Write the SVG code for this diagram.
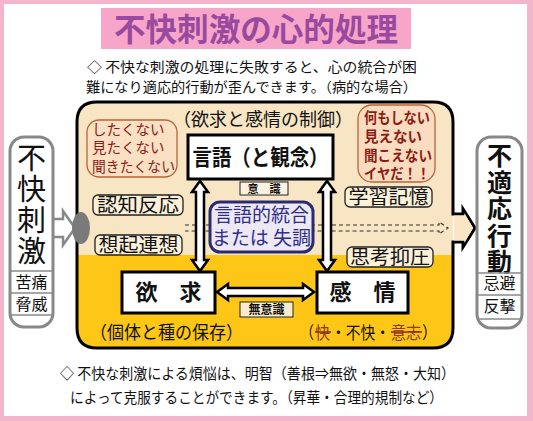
<svg xmlns="http://www.w3.org/2000/svg" width="533" height="421" viewBox="0 0 533 421">
<style>
text{font-family:"Noto Sans CJK JP","Noto Sans CJK SC",sans-serif;fill:#111}
.lbl{fill:#fbf0d8;stroke:#222;stroke-width:1.3}
.lt{font-size:19px;text-anchor:middle}
.node{fill:#fff;stroke:#000;stroke-width:3}
.side{fill:#fff;stroke:#888;stroke-width:3}
.sep{stroke:#888;stroke-width:1.5}
.dbl{fill:#fff;stroke:#000;stroke-width:2.5;stroke-linejoin:miter}
.bub{stroke:#b8653a;stroke-width:1.3}
.bt{font-size:14.5px;fill:#8b1c14}
.strike{stroke:#a0281a;stroke-width:1.6}
.st{font-size:17px}
</style>
<defs>
<clipPath id="boxclip"><path d="M97 102 H433 Q453 102 453 122 V328 Q453 348 433 348 H97 Q77 348 77 328 V122 Q77 102 97 102 Z"/></clipPath>
</defs>
<rect x="0" y="0" width="533" height="421" fill="#f3b5cc"/>
<rect x="4" y="4" width="523" height="412" fill="#fff"/>
<g id="title">
<rect x="101" y="8" width="310" height="41" fill="#f7a6c9"/>
<text x="256" y="41" text-anchor="middle" font-size="32" font-weight="bold" style="fill:#9a4a9e" textLength="284" lengthAdjust="spacingAndGlyphs">不快刺激の心的処理</text>
</g>
<g id="intro">
<text x="87" y="72" font-size="14" textLength="330" lengthAdjust="spacingAndGlyphs">◇ 不快な刺激の処理に失敗すると、心の統合が困</text>
<text x="86" y="92" font-size="14" textLength="331" lengthAdjust="spacingAndGlyphs">難になり適応的行動が歪んできます。（病的な場合）</text>
</g>
<g id="mainbox">
<g clip-path="url(#boxclip)">
<rect x="70" y="95" width="390" height="160" fill="#f7e5c3"/>
<rect x="70" y="255" width="390" height="100" fill="#fec718"/>
</g>
<path d="M97 102 H433 Q453 102 453 122 V214 H463 V209 L475 228 L463 247 V242 H453 V328 Q453 348 433 348 H97 Q77 348 77 328 V122 Q77 102 97 102 Z" fill="none" stroke="#000" stroke-width="3"/>
<path d="M454 215.5 H464.5 V213 L473 228 L464.5 243 V240.5 H454 Z" fill="#f7e5c3"/>
<text x="263" y="126" font-size="18" text-anchor="middle" textLength="180" lengthAdjust="spacingAndGlyphs">（欲求と感情の制御）</text>
</g>
<g id="connectors">
<path d="M185 225 H439 V222 L448 228 L439 234 V231 H185" fill="none" stroke="#333" stroke-width="1.2" stroke-dasharray="4 3"/>
<polygon points="52,219 63,219 63,211 75,228 63,245 63,237 52,237" fill="#fff" stroke="#888" stroke-width="2.5"/>
<ellipse cx="81" cy="228" rx="9" ry="16" fill="#7a7a7a"/>
<polygon class="dbl" points="200,181 208,192 204,192 204,260 208,260 200,271 192,260 196,260 196,192 192,192"/>
<polygon class="dbl" points="327,181 335,192 331,192 331,260 335,260 327,271 319,260 323,260 323,192 319,192"/>
<polygon class="dbl" points="217,292 228,284 228,288 303,288 303,284 314,292 303,300 303,296 228,296 228,300"/>
</g>
<g id="bubble-left">
<rect class="bub" x="87" y="120" width="90" height="57" rx="12" fill="#fbe0c4"/>
<text class="bt" x="92" y="135">したくない</text>
<text class="bt" x="92" y="153">見たくない</text>
<text class="bt" x="92" y="172" textLength="83" lengthAdjust="spacingAndGlyphs">聞きたくない</text>
</g>
<g id="bubble-right">
<rect class="bub" x="358" y="105" width="77" height="77" rx="14" fill="#fadcc0"/>
<text class="bt" x="364" y="123" font-weight="bold" textLength="66" lengthAdjust="spacingAndGlyphs">何もしない</text>
<text class="bt" x="364" y="142" font-weight="bold">見えない</text>
<text class="bt" x="364" y="161" font-weight="bold" textLength="68" lengthAdjust="spacingAndGlyphs">聞こえない</text>
<text class="bt" x="364" y="179" font-weight="bold" textLength="66" lengthAdjust="spacingAndGlyphs">イヤだ！！</text>
</g>
<g id="node-gengo">
<rect class="node" x="188" y="135" width="145" height="44"/>
<text x="260.5" y="165" font-size="22" font-weight="bold" text-anchor="middle" textLength="136" lengthAdjust="spacingAndGlyphs">言語（と観念）</text>
</g>
<g id="label-ishiki">
<rect x="240" y="182" width="48" height="13" fill="#fbf3e0" stroke="#222" stroke-width="1"/>
<text x="264" y="193" font-size="11" font-weight="bold" text-anchor="middle">意　識</text>
</g>
<g id="label-ninchi">
<rect class="lbl" x="93" y="195" width="90" height="20" rx="5"/>
<text class="lt" x="138" y="212" textLength="82" lengthAdjust="spacingAndGlyphs">認知反応</text>
</g>
<g id="label-souki">
<rect class="lbl" x="95" y="235" width="87" height="20" rx="5"/>
<text class="lt" x="138.5" y="252" textLength="80" lengthAdjust="spacingAndGlyphs">想起連想</text>
</g>
<g id="label-gakushu">
<rect class="lbl" x="345" y="187" width="87" height="20" rx="5"/>
<text class="lt" x="388.5" y="204" textLength="80" lengthAdjust="spacingAndGlyphs">学習記憶</text>
</g>
<g id="label-shikou">
<rect class="lbl" x="347" y="247" width="86" height="20" rx="5"/>
<text class="lt" x="390" y="264" textLength="80" lengthAdjust="spacingAndGlyphs">思考抑圧</text>
</g>
<g id="node-tougou">
<rect x="210" y="202" width="103" height="50" rx="10" fill="#ece8f4" stroke="#2b2b70" stroke-width="3"/>
<text x="261.5" y="222" font-size="19" text-anchor="middle" style="fill:#2e2e8a">言語的統合</text>
<text x="261.5" y="245" font-size="19" text-anchor="middle" style="fill:#2e2e8a">または 失調</text>
</g>
<g id="node-yokkyu">
<rect class="node" x="122" y="272" width="93" height="41"/>
<text x="168.5" y="300" font-size="22" font-weight="bold" text-anchor="middle">欲　求</text>
</g>
<g id="node-kanjou">
<rect class="node" x="317" y="272" width="91" height="41"/>
<text x="362.5" y="300" font-size="22" font-weight="bold" text-anchor="middle">感　情</text>
</g>
<g id="label-muishiki">
<rect x="240" y="302" width="53" height="15" fill="#f8ecd0" stroke="#222" stroke-width="1"/>
<text x="266.5" y="314" font-size="12" font-weight="bold" text-anchor="middle">無意識</text>
</g>
<g id="sub-labels">
<text x="90" y="339" font-size="18" textLength="153" lengthAdjust="spacingAndGlyphs">（個体と種の保存）</text>
<text class="st" x="300" y="339" textLength="14" lengthAdjust="spacingAndGlyphs">（</text>
<text class="st" x="315" y="339" style="fill:#8b3a1a" textLength="15" lengthAdjust="spacingAndGlyphs">快</text>
<text class="st" x="331" y="339" textLength="59" lengthAdjust="spacingAndGlyphs">・不快・</text>
<text class="st" x="391" y="339" style="fill:#8b3a1a" textLength="30" lengthAdjust="spacingAndGlyphs">意志</text>
<text class="st" x="422" y="339" textLength="15" lengthAdjust="spacingAndGlyphs">）</text>
<line class="strike" x1="315" y1="332" x2="331" y2="332"/>
<line class="strike" x1="391" y1="332" x2="422" y2="332"/>
</g>
<g id="node-stimulus">
<rect class="side" x="10" y="137" width="43" height="190" rx="14"/>
<text x="31.5" y="143" font-size="29" writing-mode="tb" textLength="122" lengthAdjust="spacing">不快刺激</text>
<line class="sep" x1="11" y1="271" x2="52" y2="271"/>
<line class="sep" x1="11" y1="293" x2="52" y2="293"/>
<line class="sep" x1="11" y1="315" x2="52" y2="315"/>
<text x="31.5" y="288" font-size="16" text-anchor="middle">苦痛</text>
<text x="31.5" y="310" font-size="16" text-anchor="middle">脅威</text>
</g>
<g id="node-maladaptive">
<rect class="side" x="477" y="137" width="45" height="191" rx="14"/>
<text x="499.5" y="143" font-size="25" font-weight="bold" writing-mode="tb" textLength="131" lengthAdjust="spacing">不適応行動</text>
<line class="sep" x1="478" y1="273" x2="521" y2="273"/>
<line class="sep" x1="478" y1="295" x2="521" y2="295"/>
<line class="sep" x1="478" y1="319" x2="521" y2="319"/>
<text x="499.5" y="289" font-size="16" text-anchor="middle">忌避</text>
<text x="499.5" y="312" font-size="16" text-anchor="middle">反撃</text>
</g>
<g id="conclusion">
<text x="60" y="379" font-size="15" textLength="395" lengthAdjust="spacingAndGlyphs">◇ 不快な刺激による煩悩は、明智（善根⇒無欲・無怒・大知）</text>
<text x="70" y="403" font-size="15" textLength="373" lengthAdjust="spacingAndGlyphs">によって克服することができます。（昇華・合理的規制など）</text>
</g>
</svg>
